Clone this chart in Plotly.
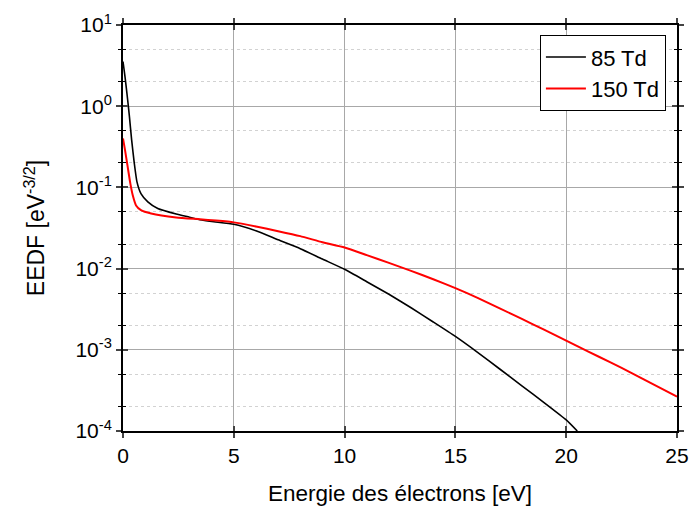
import plotly.graph_objects as go

# Data
energy_85 = [0, 0.09, 0.21, 0.29, 0.39, 0.51, 0.63, 0.81, 1.12, 1.57, 2.4, 3.0,
             3.47, 4.0, 5.0, 6.0, 7.0, 8.0, 9.0, 10.0, 11, 12, 13, 14, 15, 16, 17,
             18, 19, 20, 20.5]
eedf_85 = [3.55, 2.32, 1.2, 0.745, 0.384, 0.198, 0.117, 0.084, 0.0665, 0.055, 0.047,
           0.043, 0.040, 0.038, 0.0352, 0.0292, 0.0226, 0.0176, 0.0131,
           0.0098, 0.0069, 0.00483, 0.00329, 0.0022, 0.00146, 0.00093, 0.00058,
           0.00036, 0.000224, 0.000137, 0.0001]

energy_150 = [0, 0.09, 0.21, 0.33, 0.44, 0.59, 0.81, 1.27, 2.4, 3.47, 4.2,
              5.0, 6.0, 7.0, 8.0, 9.0, 10.0, 11.0, 12.0, 13.0, 14.0, 15.0, 16.0, 17.0,
              18.0, 19.0, 20.0, 21.0, 22.0, 23.0, 24.0, 25.0]
eedf_150 = [0.40, 0.29, 0.18, 0.112, 0.080, 0.060, 0.0525, 0.0478, 0.0427, 0.0405,
            0.039, 0.0371, 0.033, 0.0289, 0.0251, 0.0211, 0.0182,
            0.01466, 0.01175, 0.00938, 0.0074, 0.00575, 0.00437, 0.00324, 0.0024,
            0.00177, 0.0013, 0.00095, 0.0007, 0.00051, 0.000367, 0.000265]

series_names = ["85 Td", "150 Td"]
x_ticks = [0, 5, 10, 15, 20, 25]
y_tickvals = [1e-4, 1e-3, 1e-2, 1e-1, 1e0, 1e1]
y_ticktext = ["10<sup>-4</sup>", "10<sup>-3</sup>", "10<sup>-2</sup>",
              "10<sup>-1</sup>", "10<sup>0</sup>", "10<sup>1</sup>"]

FONT = "Liberation Sans, Arial, sans-serif"

fig = go.Figure()
fig.add_trace(go.Scatter(x=energy_85, y=eedf_85, mode="lines", name=series_names[0],
                         line=dict(color="black", width=1.6, shape="spline", smoothing=0.5)))
fig.add_trace(go.Scatter(x=energy_150, y=eedf_150, mode="lines", name=series_names[1],
                         line=dict(color="#ff0000", width=2, shape="spline", smoothing=0.5)))

fig.update_layout(
    width=689, height=506,
    margin=dict(l=123, r=12, t=25, b=75),
    paper_bgcolor="white", plot_bgcolor="white",
    font=dict(family=FONT, color="black", size=21),
    showlegend=True,
    legend=dict(x=0.98, y=0.975, xanchor="right", yanchor="top",
                bordercolor="black", borderwidth=1, bgcolor="white",
                font=dict(size=22, family=FONT), tracegroupgap=0,
                itemwidth=40),
    xaxis=dict(
        range=[0, 25], tickvals=x_ticks, ticks="outside", ticklen=5, tickwidth=1.5,
        showline=True, linecolor="black", linewidth=2, mirror="ticks",
        showgrid=True, gridcolor="#a8a8a8", gridwidth=1, zeroline=False,
        tickfont=dict(size=21), automargin=False,
        title=dict(text="Energie des électrons [eV]", font=dict(size=22.5), standoff=22),
    ),
    yaxis=dict(
        type="log", range=[-4, 1], tickvals=y_tickvals, ticktext=y_ticktext,
        ticks="outside", ticklen=5, tickwidth=1.5,
        showline=True, linecolor="black", linewidth=2, mirror="ticks",
        showgrid=True, gridcolor="#a8a8a8", gridwidth=1, zeroline=False,
        tickfont=dict(size=21), automargin=False,
        minor=dict(ticks="outside", ticklen=3, tickwidth=1, tickcolor="black",
                   showgrid=True, gridcolor="#d2d2d2", griddash="dot", gridwidth=1),
        title=dict(text="EEDF [eV<sup>-3/2</sup>]", font=dict(size=23), standoff=24),
    ),
    xaxis2=dict(overlaying="x", range=[0, 25], tickvals=x_ticks, ticks="inside",
                ticklen=5, tickwidth=1.5, showticklabels=False, showgrid=False,
                zeroline=False, mirror="ticks", showline=False, anchor="y2",
                automargin=False),
    yaxis2=dict(overlaying="y", type="log", range=[-4, 1], tickvals=y_tickvals,
                ticks="inside", ticklen=5, tickwidth=1.5, showticklabels=False,
                showgrid=False, zeroline=False, mirror="ticks", showline=False,
                anchor="x2", automargin=False,
                minor=dict(ticks="inside", ticklen=3, tickwidth=1, tickcolor="black",
                           showgrid=False)),
)

# invisible helper trace so the overlay axes (inner half of the ticks) are drawn
fig.add_trace(go.Scatter(x=[None], y=[None], xaxis="x2", yaxis="y2",
                         showlegend=False, hoverinfo="skip"))

fig.write_html(
    "out.html",
    config={"displayModeBar": False},
    post_script="document.body.style.margin='0';document.body.style.overflow='hidden';",
)
